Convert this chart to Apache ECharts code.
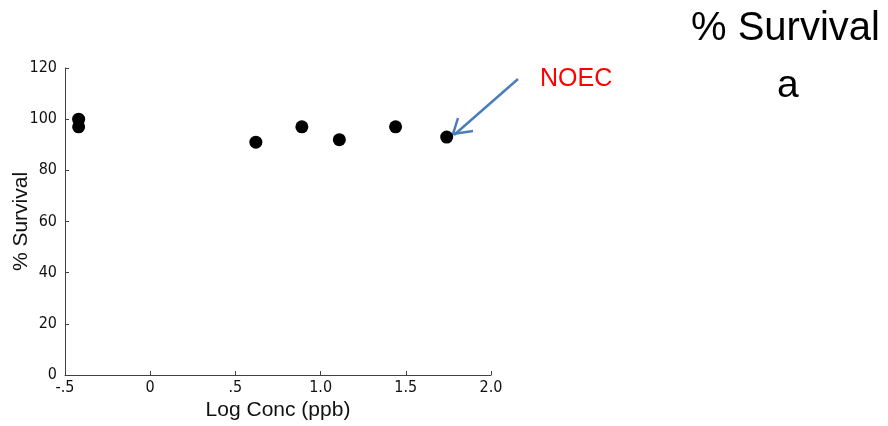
<!DOCTYPE html>
<html>
<head>
<meta charset="utf-8">
<script src="https://cdn.jsdelivr.net/npm/echarts@6/dist/echarts.min.js"></script>
<style>html,body{margin:0;padding:0;background:#fff}#c{width:888px;height:426px}</style>
</head>
<body>
<div id="c"></div>
<script>
var logConc = [-0.42, -0.42, 0.62, 0.89, 1.11, 1.44, 1.74];
var survival = [100, 97, 91, 97, 92, 97, 93];
var xTickValues = [-0.5, 0, 0.5, 1.0, 1.5, 2.0];
var xTickLabels = ['-.5', '0', '.5', '1.0', '1.5', '2.0'];
var yTickLabels = ['0', '20', '40', '60', '80', '100', '120'];

var chart = echarts.init(document.getElementById('c'));
var pts = logConc.map(function (x, i) { return [x, survival[i]]; });
var axisCol = '#404040';
var tickFont = '"DejaVu Sans Condensed", "Liberation Sans Narrow", "Liberation Sans", Arial, sans-serif';

chart.setOption({
  animation: false,
  backgroundColor: '#ffffff',
  grid: { left: 65, right: 397, top: 68, bottom: 50 },
  xAxis: {
    type: 'value', min: -0.5, max: 2.0, interval: 0.5,
    splitLine: { show: false },
    axisLine: { show: true, onZero: false, lineStyle: { color: axisCol, width: 1 } },
    axisTick: { show: true, inside: true, length: 4, lineStyle: { color: axisCol } },
    axisLabel: {
      color: '#111', fontSize: 16, fontFamily: tickFont, margin: 5,
      formatter: function (v) {
        for (var i = 0; i < xTickValues.length; i++) if (Math.abs(xTickValues[i] - v) < 1e-9) return xTickLabels[i];
        return '';
      }
    },
    name: 'Log Conc (ppb)', nameLocation: 'middle', nameGap: 25, nameMoveOverlap: false,
    nameTextStyle: { color: '#111', fontSize: 21, fontFamily: 'Liberation Sans, Arial, sans-serif' }
  },
  yAxis: {
    type: 'value', min: 0, max: 120, interval: 20,
    splitLine: { show: false },
    axisLine: { show: true, onZero: false, lineStyle: { color: axisCol, width: 1 } },
    axisTick: { show: true, inside: true, length: 4, lineStyle: { color: axisCol } },
    axisLabel: {
      color: '#111', fontSize: 16, fontFamily: tickFont, margin: 8,
      formatter: function (v) { return yTickLabels[Math.round(v / 20)] || ''; }
    },
    name: '% Survival', nameLocation: 'middle', nameGap: 33, nameRotate: 90, nameMoveOverlap: false,
    nameTextStyle: { color: '#111', fontSize: 21, fontFamily: 'Liberation Sans, Arial, sans-serif' }
  },
  series: [{
    type: 'scatter', data: pts, symbol: 'circle', symbolSize: 13,
    itemStyle: { color: '#000', opacity: 1 }
  }],
  graphic: [
    { type: 'text', left: 691, top: 9, style: { text: '% Survival', fill: '#000', font: '40px "Liberation Sans", Arial, sans-serif' } },
    { type: 'text', left: 777, top: 67, style: { text: 'a', fill: '#000', font: '39px "Liberation Sans", Arial, sans-serif' } },
    { type: 'text', left: 540, top: 67, style: { text: 'NOEC', fill: '#ff0000', font: '25px "Liberation Sans", Arial, sans-serif' } },
    { type: 'line', shape: { x1: 518, y1: 79, x2: 454, y2: 135 }, style: { stroke: '#4a7ebb', lineWidth: 2.5 } },
    { type: 'polyline', shape: { points: [[458, 118], [453, 134], [473, 131]] }, style: { stroke: '#4a7ebb', lineWidth: 2.5, fill: null } }
  ]
});
</script>
</body>
</html>
